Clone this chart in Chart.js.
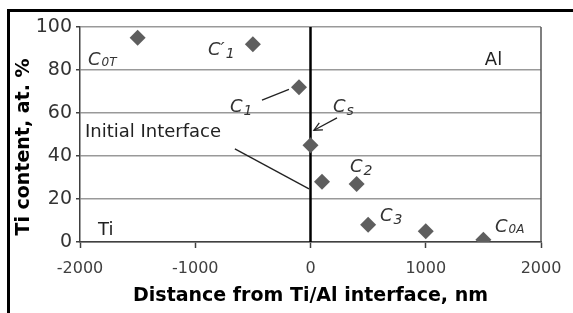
<!DOCTYPE html>
<html>
<head>
<meta charset="utf-8">
<script src="https://cdn.jsdelivr.net/npm/chart.js@4.4.1/dist/chart.umd.min.js"></script>
<style>
  html, body { margin: 0; padding: 0; background: #fff; }
  canvas { display: block; }
</style>
</head>
<body>
<canvas id="tiChart" width="573" height="313"></canvas>
<script>
'use strict';

// measured points: distance from the Ti/Al interface (nm) vs Ti content (at. %)
var distances = [-1500, -500, -100, 0, 100, 400, 500, 1000, 1500];
var tiContent = [95, 92, 72, 45, 28, 27, 8, 5, 1];

var xTicks = [-2000, -1000, 0, 1000, 2000];
var yTicks = [0, 20, 40, 60, 80, 100];

// initial interface (vertical line)
var interfaceX = [0, 0];
var interfaceY = [0, 100];

// concentration labels, placed in data units
var labelMain = ['C', "C\u2032", 'C', 'C', 'C', 'C', 'C'];
var labelSub = ['0T', '1', '1', 's', '2', '3', '0A'];
var labelX = [-1931, -889, -699, 195, 343, 603, 1601];
var labelY = [82.3, 87, 60.5, 60.5, 32.6, 9.8, 4.7];

// plain text labels
var textLabels = ['Ti', 'Al', 'Initial Interface'];
var textX = [-1844, 1513, -1957];
var textY = [3.3, 82.3, 48.8];

// leader lines [x1, y1, x2, y2] in data units
var leaderC1 = [-421, 66, -187, 71];
var leaderCs = [230, 57.7, 30, 52];
var leaderInterface = [-656, 43.3, -13, 24.7];

var FONT = "'DejaVu Sans', sans-serif";

var pointsData = distances.map(function (d, i) { return {x: d, y: tiContent[i]}; });
var interfaceData = interfaceX.map(function (d, i) { return {x: d, y: interfaceY[i]}; });

var annotate = {
    id: 'annotate',
    afterDatasetsDraw: function (chart) {
        var ctx = chart.ctx;
        var xs = chart.scales.x, ys = chart.scales.y;
        var area = chart.chartArea;
        var px = function (v) { return xs.getPixelForValue(v); };
        var py = function (v) { return ys.getPixelForValue(v); };

        ctx.save();
        // right border of the plot area
        ctx.strokeStyle = '#555';
        ctx.lineWidth = 1.5;
        ctx.beginPath();
        ctx.moveTo(area.right, area.top);
        ctx.lineTo(area.right, area.bottom);
        ctx.stroke();

        // leader lines
        ctx.strokeStyle = '#222';
        ctx.lineWidth = 1.3;
        [leaderC1, leaderCs, leaderInterface].forEach(function (l) {
            ctx.beginPath();
            ctx.moveTo(px(l[0]), py(l[1]));
            ctx.lineTo(px(l[2]), py(l[3]));
            ctx.stroke();
        });
        // arrow head on the Cs leader
        var ax = px(leaderCs[2]), ay = py(leaderCs[3]);
        var ang = Math.atan2(ay - py(leaderCs[1]), ax - px(leaderCs[0]));
        ctx.beginPath();
        ctx.moveTo(ax - 9 * Math.cos(ang - 0.45), ay - 9 * Math.sin(ang - 0.45));
        ctx.lineTo(ax, ay);
        ctx.lineTo(ax - 9 * Math.cos(ang + 0.45), ay - 9 * Math.sin(ang + 0.45));
        ctx.stroke();

        // C labels with subscripts
        ctx.fillStyle = '#333';
        ctx.textBaseline = 'alphabetic';
        ctx.textAlign = 'left';
        labelMain.forEach(function (m, i) {
            var x = px(labelX[i]), y = py(labelY[i]);
            ctx.font = 'oblique 18px ' + FONT;
            ctx.fillText(m, x, y);
            var w = ctx.measureText(m).width;
            var sub = labelSub[i];
            var caps = /[A-Z]/.test(sub);
            ctx.font = 'oblique ' + (caps ? 12 : 14) + 'px ' + FONT;
            ctx.fillText(sub, x + w + 1, y + (caps ? 1 : 3));
        });

        // plain labels
        ctx.font = '18px ' + FONT;
        ctx.fillStyle = '#222';
        textLabels.forEach(function (t, i) {
            ctx.fillText(t, px(textX[i]), py(textY[i]));
        });

        // y axis title
        ctx.font = 'bold 19px ' + FONT;
        ctx.fillStyle = '#000';
        ctx.textAlign = 'center';
        ctx.textBaseline = 'middle';
        ctx.translate(24, 147);
        ctx.rotate(-Math.PI / 2);
        ctx.fillText('Ti content, at. %', 0, 0);
        ctx.restore();
    },
    afterDraw: function (chart) {
        // picture frame
        var ctx = chart.ctx;
        ctx.save();
        ctx.fillStyle = '#000';
        ctx.fillRect(7, 9, chart.width - 7, 3);
        ctx.fillRect(7, 9, 3, chart.height - 9);
        ctx.restore();
    }
};

var chart = new Chart(document.getElementById('tiChart'), {
    type: 'scatter',
    data: {
        datasets: [
            {
                label: 'Ti content',
                data: pointsData,
                pointStyle: 'rectRot',
                pointRadius: 8,
                pointHoverRadius: 8,
                backgroundColor: '#5e5e5e',
                borderColor: '#5e5e5e',
                borderWidth: 0,
                order: 0
            },
            {
                type: 'line',
                label: 'Initial interface',
                data: interfaceData,
                borderColor: '#000',
                borderWidth: 2.5,
                pointRadius: 0,
                fill: false,
                order: 1
            }
        ]
    },
    options: {
        responsive: false,
        animation: false,
        events: [],
        layout: { padding: { left: 0, right: 32, top: 27, bottom: 0 } },
        plugins: {
            legend: { display: false },
            tooltip: { enabled: false }
        },
        scales: {
            x: {
                type: 'linear',
                min: xTicks[0],
                max: xTicks[xTicks.length - 1],
                afterBuildTicks: function (scale) {
                    scale.ticks = xTicks.map(function (v) { return {value: v}; });
                },
                afterFit: function (scale) { scale.height = 71; },
                grid: {
                    drawOnChartArea: false,
                    drawTicks: true,
                    tickLength: 6,
                    tickColor: '#404040',
                    tickWidth: 1.5
                },
                border: { display: true, color: '#404040', width: 1.5 },
                ticks: {
                    color: '#404040',
                    padding: 11,
                    maxRotation: 0,
                    font: { family: FONT, size: 16 },
                    callback: function (v) { return String(v); }
                },
                title: {
                    display: true,
                    text: 'Distance from Ti/Al interface, nm',
                    color: '#000',
                    padding: { top: 0, bottom: 6 },
                    font: { family: FONT, size: 19, weight: 'bold' }
                }
            },
            y: {
                min: yTicks[0],
                max: yTicks[yTicks.length - 1],
                afterBuildTicks: function (scale) {
                    scale.ticks = yTicks.map(function (v) { return {value: v}; });
                },
                afterFit: function (scale) { scale.width = 80; },
                grid: {
                    color: '#999',
                    lineWidth: 1.5,
                    tickLength: 4,
                    tickColor: '#404040'
                },
                border: { display: true, color: '#404040', width: 1.5 },
                ticks: {
                    color: '#333',
                    padding: 4,
                    font: { family: FONT, size: 19 }
                }
            }
        }
    },
    plugins: [annotate]
});
</script>
</body>
</html>
